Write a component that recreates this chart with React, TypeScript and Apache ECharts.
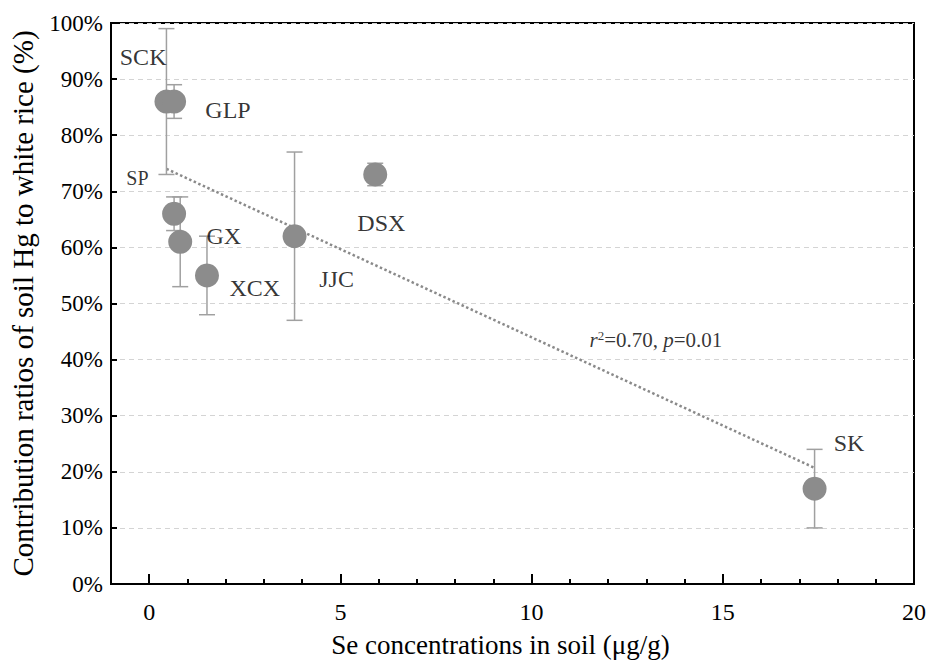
import React, { useEffect, useRef } from "react";
import * as echarts from "echarts";

// ---- data ----
const siteNames = ["SCK", "GLP", "SP", "GX", "XCX", "JJC", "DSX", "SK"];
const seSoil = [0.45, 0.65, 0.65, 0.81, 1.51, 3.8, 5.91, 17.4];
const hgRatio = [86, 86, 66, 61, 55, 62, 73, 17];
const hgError = [13, 3, 3, 8, 7, 15, 2, 7];
// label anchor positions (data coordinates)
const labelX = [-0.16, 2.06, -0.31, 1.95, 2.76, 4.9, 6.07, 18.3];
const labelY = [94, 84.5, 72.3, 62, 52.7, 54.4, 64.3, 25.1];
// fitted trend line end points
const trendX = [0.45, 17.4];
const trendY = [74.0, 20.7];
const statPos = [13.25, 43.5];
const xMajorTicks = [0, 5, 10, 15, 20];
const xMinorTicks = [0, 1, 2, 3, 4, 5, 6, 7, 8, 9, 10, 11, 12, 13, 14, 15, 16, 17, 18, 19, 20];

const FONT = "'Liberation Serif', 'Times New Roman', serif";

export default function App() {
  const ref = useRef<HTMLDivElement>(null);
  useEffect(() => {
    if (!ref.current) return;
    const chart = echarts.init(ref.current, undefined, { renderer: "svg" });

    const errData = seSoil.map((x, i) => [x, hgRatio[i], hgError[i]]);
    const ptData = seSoil.map((x, i) => [x, hgRatio[i]]);
    const labelData: any[] = siteNames.map((n, i) => ({
      value: [labelX[i], labelY[i], n],
      label: n === "SP" ? { fontSize: 20 } : undefined,
    }));
    labelData.push({
      value: [statPos[0], statPos[1], "stat"],
      label: {
        formatter: "{i|r}{s|2}{n|=0.70, }{i|p}{n|=0.01}",
        rich: {
          i: { fontFamily: FONT, fontStyle: "italic", fontSize: 21, color: "#000" },
          n: { fontFamily: FONT, fontSize: 21, color: "#000" },
          s: { fontFamily: FONT, fontSize: 13, color: "#000", verticalAlign: "top", padding: [0, 0, 9, 0] },
        },
      },
    });

    chart.setOption({
      animation: false,
      backgroundColor: "#fff",
      textStyle: { fontFamily: FONT },
      grid: {
        left: 108,
        right: 13,
        top: 23,
        bottom: 74,
        show: true,
        borderColor: "#000",
        borderWidth: 2,
        backgroundColor: "transparent",
      },
      xAxis: [
        {
          type: "value",
          min: -1,
          max: 20,
          position: "bottom",
          name: "Se concentrations in soil (μg/g)",
          nameLocation: "middle",
          nameGap: 47,
          nameTextStyle: { fontFamily: FONT, fontSize: 27, color: "#000", padding: [0, 24, 0, 0] },
          axisLine: { show: true, onZero: false, lineStyle: { color: "#000", width: 2 } },
          axisTick: { show: true, inside: true, length: 10, customValues: xMajorTicks, lineStyle: { color: "#000", width: 2 } },
          axisLabel: { customValues: xMajorTicks, fontFamily: FONT, fontSize: 24, color: "#000", margin: 16 },
          splitLine: { show: false },
        },
        {
          type: "value",
          min: -1,
          max: 20,
          position: "bottom",
          axisLine: { show: false, onZero: false },
          axisTick: { show: true, inside: true, length: 5, customValues: xMinorTicks, lineStyle: { color: "#000", width: 2 } },
          axisLabel: { show: false },
          splitLine: { show: false },
        },
      ],
      yAxis: {
        type: "value",
        min: 0,
        max: 100,
        interval: 10,
        name: "Contribution ratios of soil Hg to white rice (%)",
        nameLocation: "middle",
        nameGap: 74,
        nameTextStyle: { fontFamily: FONT, fontSize: 29, color: "#000" },
        axisLine: { show: true, onZero: false, lineStyle: { color: "#000", width: 2 } },
        axisTick: { show: true, inside: true, length: 6, lineStyle: { color: "#000", width: 2 } },
        axisLabel: { formatter: "{value}%", fontFamily: FONT, fontSize: 23, color: "#000", margin: 8 },
        splitLine: { show: true, lineStyle: { color: "#d4d4d4", type: [5, 4], width: 1 } },
      },
      series: [
        {
          type: "line",
          data: trendX.map((x, i) => [x, trendY[i]]),
          symbol: "none",
          lineStyle: { color: "#8a8a8a", width: 2.5, type: "dotted" },
          z: 3,
        },
        {
          type: "custom",
          data: errData,
          encode: { x: 0, y: 1 },
          z: 4,
          renderItem: (params: any, api: any) => {
            const x = api.value(0);
            const y = api.value(1);
            const e = api.value(2);
            const top = api.coord([x, y + e]);
            const bot = api.coord([x, y - e]);
            const hw = 8;
            const style = { stroke: "#a0a0a0", lineWidth: 1.5 };
            return {
              type: "group",
              children: [
                { type: "line", shape: { x1: top[0], y1: top[1], x2: bot[0], y2: bot[1] }, style },
                { type: "line", shape: { x1: top[0] - hw, y1: top[1], x2: top[0] + hw, y2: top[1] }, style },
                { type: "line", shape: { x1: bot[0] - hw, y1: bot[1], x2: bot[0] + hw, y2: bot[1] }, style },
              ],
            };
          },
        },
        {
          type: "scatter",
          data: ptData,
          symbol: "circle",
          symbolSize: 24,
          itemStyle: { color: "#8c8c8c", opacity: 1 },
          z: 5,
        },
        {
          type: "scatter",
          data: labelData,
          symbolSize: 1,
          itemStyle: { color: "rgba(0,0,0,0)" },
          silent: true,
          z: 6,
          label: {
            show: true,
            position: "inside",
            formatter: (p: any) => p.value[2],
            fontFamily: FONT,
            fontSize: 24,
            color: "#000",
          },
        },
      ],
    });
    return () => chart.dispose();
  }, []);

  return <div ref={ref} style={{ position: "fixed", left: 0, top: 0, width: 929, height: 663 }} />;
}
